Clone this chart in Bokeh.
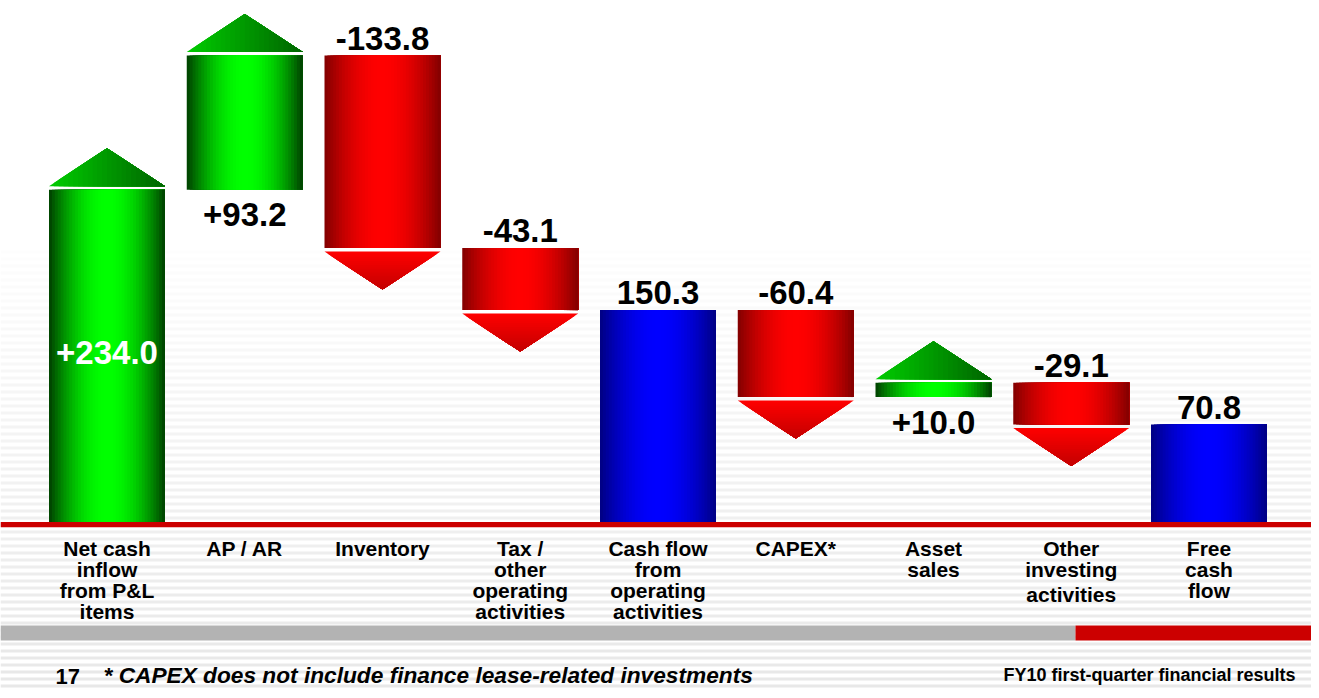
import numpy as np
from bokeh.plotting import figure
from bokeh.models import Range1d
from bokeh.core.properties import value
from bokeh.embed import file_html
from bokeh.resources import INLINE

# ---------------- data ----------------
categories = [
    "Net cash\ninflow\nfrom P&L\nitems",
    "AP / AR",
    "Inventory",
    "Tax /\nother\noperating\nactivities",
    "Cash flow\nfrom\noperating\nactivities",
    "CAPEX*",
    "Asset\nsales",
    "Other\ninvesting\nactivities",
    "Free\ncash\nflow",
]
values = [234.0, 93.2, -133.8, -43.1, 150.3, -60.4, 10.0, -29.1, 70.8]
kinds = ["delta", "delta", "delta", "delta", "total", "delta", "delta", "delta", "total"]
page_number = "17"
footnote = "* CAPEX does not include finance lease-related investments"
footer_title = "FY10 first-quarter financial results"

# ---------------- layout constants (pixels) ----------------
W, H = 1311, 690
PX = 137.75          # px per category step
X0S = 106.5          # screen x of first category centre
PY = 1.439           # px per value unit
Y0S = 525.9          # screen y of value 0

x_start = (0 - X0S) / PX
x_end = x_start + W / PX
y_end = (Y0S - 0) / PY
y_start = y_end - H / PY


def dx(sx):
    return (sx - X0S) / PX


def dy(sy):
    return (Y0S - sy) / PY


BAR_W = 116 / PX
ARROW = 38 / PY
GAP = 3.5 / PY

FONT = value("Liberation Sans")

p = figure(width=W, height=H, x_range=Range1d(x_start, x_end), y_range=Range1d(y_start, y_end),
           output_backend="svg", toolbar_location=None, min_border=0,
           x_axis_location=None, y_axis_location=None)
p.grid.visible = False
p.outline_line_color = None
p.background_fill_color = "white"
p.border_fill_color = "white"

# ---------------- background stripes ----------------
sl, sr, sb, st, sc = [], [], [], [], []
y = 250.0
while y < 700:
    f = (y - 250) / 450.0
    g = int(round(253 - 22 * f))
    sl.append(x_start); sr.append(x_end)
    st.append(dy(y)); sb.append(dy(y + 3))
    sc.append("#%02x%02x%02x" % (g, g, g))
    y += 7
p.quad(left=sl, right=sr, top=st, bottom=sb, fill_color=sc, line_color=None)

# ---------------- waterfall geometry ----------------
starts, ends = [], []
running = 0.0
for v, k in zip(values, kinds):
    if k == "total":
        s, e = 0.0, v
    else:
        s, e = running, running + v
    starts.append(s); ends.append(e)
    running = e

schemes = {
    "green": ((0, 60, 0), (0, 255, 0)),
    "red": ((128, 0, 0), (255, 0, 0)),
    "blue": ((0, 0, 128), (0, 0, 255)),
}


def hexc(c):
    return "#%02x%02x%02x" % tuple(int(round(max(0, min(255, x)))) for x in c)


N = 40
ql, qr, qt, qb, qc = [], [], [], [], []
pxs, pys, pc = [], [], []
for i, (s, e, v, k) in enumerate(zip(starts, ends, values, kinds)):
    if k == "total":
        sch = "blue"
    elif v >= 0:
        sch = "green"
    else:
        sch = "red"
    dark, bright = schemes[sch]
    left = i - BAR_W / 2
    right = i + BAR_W / 2
    edges = np.linspace(left, right, N + 1)
    for j in range(N):
        t = (j + 0.5) / N
        f = np.sin(np.pi * t) ** 0.9
        col = [d + (b - d) * f for d, b in zip(dark, bright)]
        ql.append(edges[j]); qr.append(right)
        qb.append(min(s, e)); qt.append(max(s, e))
        qc.append(hexc(col))

    if k == "total":
        continue
    half = BAR_W / 2
    if v >= 0:
        base = e + GAP
        M = 24
        xe = np.linspace(i - half, i + half, M + 1)

        def hh(x):
            return ARROW * (1 - abs(x - i) / half)
        for j in range(M):
            xa = xe[j]
            t = (j + 0.5) / M
            col = (0, 205 - 105 * t, 0)
            if xa < i:
                xs_ = [xa, i + half, i, xa]
                ys_ = [base, base, base + ARROW, base + hh(xa)]
            else:
                xs_ = [xa, i + half, xa]
                ys_ = [base, base, base + hh(xa)]
            pxs.append(xs_); pys.append(ys_)
            pc.append(hexc(col))
    else:
        base = e - GAP
        M = 20
        for j in range(M):
            d0 = ARROW * j / M
            w0 = half * (1 - d0 / ARROW)
            t = (j + 0.5) / M
            col = (255 - 60 * t, 0, 0)
            pxs.append([i - w0, i + w0, i])
            pys.append([base - d0, base - d0, base - ARROW])
            pc.append(hexc(col))

p.quad(left=ql, right=qr, top=qt, bottom=qb, fill_color=qc, line_color=None)
p.patches(xs=pxs, ys=pys, fill_color=pc, line_color=None)

# ---------------- baseline ----------------
p.quad(left=[x_start], right=[x_end], top=[dy(521.5)], bottom=[dy(526.7)],
       fill_color="#cc0000", line_color=None)

# ---------------- value labels ----------------
lx, ly, lt, lc = [], [], [], []
for i, (s, e, v, k) in enumerate(zip(starts, ends, values, kinds)):
    txt = ("%.1f" % v) if k == "total" else ("%+.1f" % v)
    if i == 0:
        lx.append(i); ly.append(dy(352)); lt.append(txt); lc.append("white")
    elif k == "delta" and v > 0:
        lx.append(i); ly.append(s - 25 / PY); lt.append(txt); lc.append("black")
    else:
        lx.append(i); ly.append(max(s, e) + 17.5 / PY); lt.append(txt); lc.append("black")
p.text(x=lx, y=ly, text=lt, text_color=lc, text_baseline="middle", text_align="center",
       text_font=FONT, text_font_style="bold", text_font_size="33px")

# ---------------- category labels ----------------
cx, cy, ct = [], [], []
for i, c in enumerate(categories):
    lines = c.split("\n")
    for j, line in enumerate(lines):
        extra = 4 if (len(lines) == 3 and j == 2 and line == "activities") else 0
        cx.append(i); cy.append(dy(548 + 21 * j + extra)); ct.append(line)
p.text(x=cx, y=cy, text=ct, text_align="center", text_baseline="middle",
       text_font=FONT, text_font_style="bold", text_font_size="21px", text_color="black")

# ---------------- footer ----------------
p.quad(left=[x_start], right=[dx(1075)], top=[dy(625)], bottom=[dy(640)],
       fill_color="#b3b3b3", line_color=None)
p.quad(left=[dx(1075)], right=[x_end], top=[dy(625)], bottom=[dy(640)],
       fill_color="#cc0000", line_color=None)
p.text(x=[dx(55)], y=[dy(675.5)], text=[page_number], text_align="left", text_baseline="middle",
       text_font=FONT, text_font_style="bold", text_font_size="22px", text_color="black")
p.text(x=[dx(103)], y=[dy(674.5)], text=[footnote], text_align="left", text_baseline="middle",
       text_font=FONT, text_font_style="bold italic", text_font_size="22.7px", text_color="black")
p.text(x=[dx(1295)], y=[dy(674)], text=[footer_title], text_align="right", text_baseline="middle",
       text_font=FONT, text_font_style="bold", text_font_size="18px", text_color="black")

open("out.html", "w").write(file_html(p, INLINE))
